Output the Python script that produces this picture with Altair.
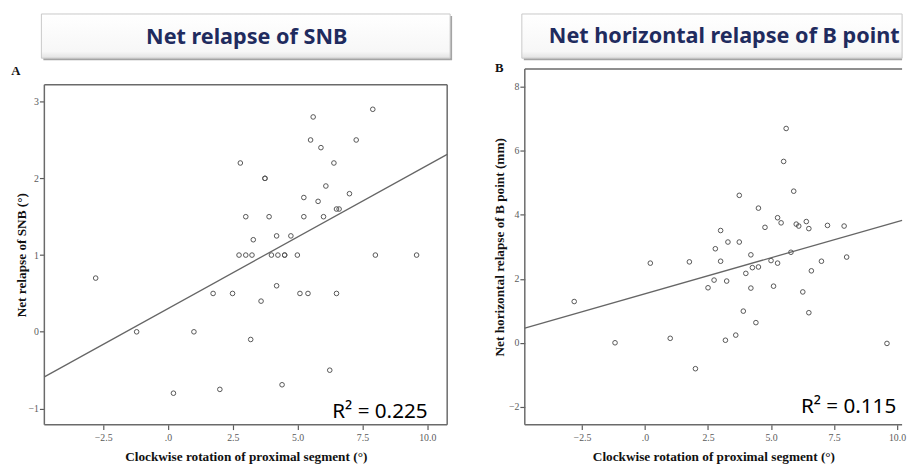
import altair as alt
import pandas as pd

# ---- data ----
xa = [-2.79, -1.21, 0.21, 1.0, 1.74, 2.0, 2.49, 2.74, 2.79, 3.0, 3.0, 3.24, 3.29, 3.19, 3.59, 3.74,
      3.74, 3.9, 3.99, 4.19, 4.19, 4.24, 4.5, 4.5, 4.40, 4.74, 4.99, 5.09, 5.24, 5.24, 5.40, 5.5,
      5.6, 5.79, 5.9, 6.0, 6.09, 6.24, 6.40, 6.5, 6.6, 6.5, 7.0, 7.26, 7.9, 8.0, 9.59]
ya = [0.70, 0.0, -0.80, 0.0, 0.5, -0.75, 0.5, 1.0, 2.2, 1.0, 1.5, 1.0, 1.2, -0.1, 0.4, 2.0,
      2.0, 1.5, 1.0, 1.25, 0.6, 1.0, 1.0, 1.0, -0.69, 1.25, 1.0, 0.5, 1.75, 1.5, 0.5, 2.5,
      2.8, 1.7, 2.4, 1.5, 1.9, -0.5, 2.2, 1.6, 1.6, 0.5, 1.8, 2.5, 2.9, 1.0, 1.0]

xb = [-2.81, -1.19, 0.21, 1.0, 1.76, 2.0, 2.5, 2.74, 2.79, 3.0, 3.0, 3.19, 3.24, 3.29, 3.6, 3.74,
      3.74, 3.9, 4.0, 4.2, 4.2, 4.26, 4.40, 4.5, 4.5, 4.76, 5.0, 5.10, 5.26, 5.26, 5.40, 5.5,
      5.6, 5.79, 5.9, 6.0, 6.1, 6.26, 6.40, 6.5, 6.5, 6.6, 7.0, 7.24, 7.9, 8.0, 9.6]
yb = [1.29, 0.0, 2.49, 0.14, 2.53, -0.81, 1.72, 1.96, 2.94, 3.51, 2.55, 0.08, 1.93, 3.15, 0.24, 4.61,
      3.15, 0.99, 2.17, 2.75, 1.71, 2.35, 0.63, 4.21, 2.37, 3.61, 2.57, 1.77, 3.91, 2.49, 3.75, 5.67,
      6.70, 2.83, 4.74, 3.71, 3.65, 1.59, 3.79, 3.57, 0.94, 2.25, 2.55, 3.67, 3.65, 2.68, -0.02]

x_ticks = [-2.5, 0, 2.5, 5.0, 7.5, 10.0]
ya_ticks = [-1, 0, 1, 2, 3]
yb_ticks = [-2, 0, 2, 4, 6, 8]

titles = ["Net relapse of SNB", "Net horizontal relapse of B point"]
letters = ["A", "B"]
r2_text = ["R\u00b2 = 0.225", "R\u00b2 = 0.115"]
x_title = "Clockwise rotation of proximal segment (\u00b0)"
y_titles = ["Net relapse of SNB (\u00b0)", "Net horizontal relapse of B point (mm)"]

SERIF = "Liberation Serif"
SANS = "Noto Sans"
GRAY = "#5a5a5a"
FRAME = "#6a6a6a"
NAVY = "#1f2b5e"


def one():
    return pd.DataFrame({"k": [0]})


def panel(xs, ys, xdom, ydom, yticks, ytitle, w, h, ytop, title, letter, r2,
          box, title_xy, letter_xy, r2_xy, right_frame, ytpad):
    df = pd.DataFrame({"x": xs, "y": ys})
    xenc = alt.X("x:Q", scale=alt.Scale(domain=xdom, nice=False, zero=False),
                 axis=alt.Axis(values=x_ticks, grid=False, domain=False,
                               labelExpr="datum.value == 0 ? '.0' : format(datum.value, '.1f')",
                               tickColor=GRAY, tickSize=5, tickWidth=1.2,
                               labelFont=SERIF, labelFontSize=10, labelColor=GRAY, labelPadding=3,
                               title=x_title, titleFont=SERIF, titleFontSize=13.5,
                               titleFontWeight="bold", titleColor="#111", titlePadding=7))
    yenc = alt.Y("y:Q", scale=alt.Scale(domain=ydom, nice=False, zero=False, range=[h, ytop]),
                 axis=alt.Axis(values=yticks, format="d", grid=False, domain=False,
                               tickColor=GRAY, tickSize=5, tickWidth=1.2,
                               labelFont=SERIF, labelFontSize=10, labelColor=GRAY, labelPadding=1,
                               title=ytitle, titleFont=SERIF, titleFontSize=13.5,
                               titleFontWeight="bold", titleColor="#111", titlePadding=ytpad))
    pts = alt.Chart(df).mark_point(shape="circle", filled=False, size=22,
                                   color="#555", strokeWidth=1, opacity=1).encode(x=xenc, y=yenc)
    fit = alt.Chart(df).transform_regression(
        "x", "y", extent=xdom).mark_line(color="#666", strokeWidth=1.3).encode(x="x:Q", y="y:Q")

    fr = dict(color=FRAME, strokeWidth=1.5)
    frames = [
        alt.Chart(one()).mark_rule(**fr).encode(x=alt.value(0), x2=alt.value(w), y=alt.value(ytop)),
        alt.Chart(one()).mark_rule(**fr).encode(x=alt.value(0), x2=alt.value(w), y=alt.value(h)),
        alt.Chart(one()).mark_rule(**fr).encode(x=alt.value(0), y=alt.value(ytop), y2=alt.value(h)),
    ]
    if right_frame:
        frames.append(alt.Chart(one()).mark_rule(**fr).encode(
            x=alt.value(w), y=alt.value(ytop), y2=alt.value(h)))

    bx1, bx2, by1, by2, sx = box
    shadow = alt.Chart(one()).mark_rect(color="#9a9a9a", opacity=0.9).encode(
        x=alt.value(bx1 + 2), x2=alt.value(bx2 + sx), y=alt.value(by1 + 2), y2=alt.value(by2 + 2))
    boxm = alt.Chart(one()).mark_rect(
        color=alt.Gradient(gradient="linear", x1=0, y1=0, x2=0, y2=1,
                           stops=[alt.GradientStop(color="#ffffff", offset=0),
                                  alt.GradientStop(color="#f7f7f7", offset=0.85),
                                  alt.GradientStop(color="#e2e2e2", offset=1)]),
        stroke="#c8c8c8", strokeWidth=1).encode(
        x=alt.value(bx1), x2=alt.value(bx2), y=alt.value(by1), y2=alt.value(by2))
    ttl = alt.Chart(one()).mark_text(font=SANS, fontSize=22, fontWeight="bold", color=NAVY,
                                     align="center", baseline="middle").encode(
        x=alt.value(title_xy[0]), y=alt.value(title_xy[1]), text=alt.value(title))
    let = alt.Chart(one()).mark_text(font=SERIF, fontSize=13, fontWeight="bold", color="#111",
                                     align="center", baseline="middle").encode(
        x=alt.value(letter_xy[0]), y=alt.value(letter_xy[1]), text=alt.value(letter))
    r2m = alt.Chart(one()).mark_text(font=SANS, fontSize=21, color="#000",
                                     align="right", baseline="alphabetic").encode(
        x=alt.value(r2_xy[0]), y=alt.value(r2_xy[1]), text=alt.value(r2))
    return alt.layer(shadow, boxm, ttl, let, *frames, fit, pts, r2m).properties(width=w, height=h)


H = 362
WA = 410
WB = 384
pa = panel(xa, ya, [-4.77, 10.77], [-1.21, 3.22], ya_ticks, y_titles[0], WA, H, 16,
           titles[0], letters[0], r2_text[0],
           box=(-3, WA + 3, -56, -11, 2), title_xy=(206, -32), letter_xy=(-29, 2),
           r2_xy=(WA - 20, H - 7), right_frame=True, ytpad=0)
pb = panel(xb, yb, [-4.77, 10.2], [-2.56, 8.56], yb_ticks, y_titles[1], WB, H, 0,
           titles[1], letters[1], r2_text[1],
           box=(-3, WB, -56, -11, 0), title_xy=(203, -33), letter_xy=(-26, -1),
           r2_xy=(WB - 6, H - 12), right_frame=False, ytpad=2)

PAD = {"left": 2, "top": 1, "right": 0, "bottom": 0}
chart = alt.hconcat(pa, pb, spacing=39).properties(
    padding=PAD
).configure_view(stroke="transparent")

chart.save("out.html", embed_options={"renderer": "svg", "actions": False, "padding": PAD})
